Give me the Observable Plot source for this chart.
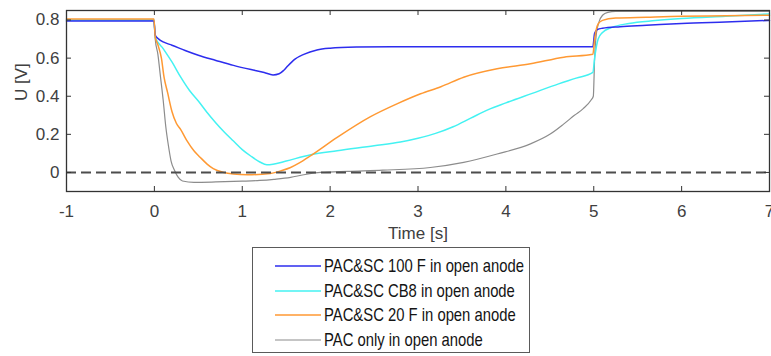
<!DOCTYPE html>
<html><head><meta charset="utf-8">
<script src="https://cdn.jsdelivr.net/npm/d3@7"></script>
<script src="https://cdn.jsdelivr.net/npm/@observablehq/plot@0.6"></script>
<style>
body{margin:0;background:#fff;}
#wrap{position:relative;width:771px;height:356px;overflow:hidden;background:#fff;}
#chart{position:absolute;left:0;top:0;}
#legend{position:absolute;left:252px;top:247px;width:278px;height:106px;border:1px solid #5a5a5a;background:#fff;box-sizing:border-box;}
.row{position:absolute;left:0;height:24px;display:flex;align-items:center;white-space:nowrap;}
.row svg{margin-left:22px;margin-right:3px;}
.lbl{color:#141414;font-size:19px;display:inline-block;transform-origin:left center;}
</style></head><body>
<div id="wrap"><div id="chart"></div><div id="legend"></div></div>
<script>
// ---------- data ----------
const seriesNames = ["PAC&SC 100 F in open anode","PAC&SC CB8 in open anode","PAC&SC 20 F in open anode","PAC only in open anode"];
const seriesColors = ["#2d2dee","#44f2f2","#ff9933","#8c8c8c"];
const seriesWidths = [1.5,1.5,1.5,1.2];

const t100 = [-1,-0.005,0.01,0.05,0.1,0.2,0.35,0.5,0.7,0.9,1.1,1.25,1.35,1.42,1.47,1.52,1.6,1.7,1.85,2.0,2.3,2.7,3.5,4.5,4.99,5.01,5.04,5.1,5.3,5.6,6.0,6.5,7.0];
const u100 = [0.795,0.795,0.72,0.70,0.685,0.668,0.64,0.615,0.588,0.562,0.54,0.525,0.512,0.518,0.535,0.56,0.595,0.62,0.643,0.652,0.658,0.66,0.66,0.66,0.66,0.73,0.75,0.757,0.765,0.772,0.782,0.79,0.798];

const tCB8 = [-1,-0.005,0.01,0.1,0.2,0.3,0.4,0.5,0.6,0.7,0.8,0.9,1.0,1.1,1.2,1.28,1.35,1.5,1.78,2.08,2.5,2.8,3.0,3.2,3.4,3.6,3.8,4.0,4.3,4.6,4.8,4.99,5.01,5.05,5.1,5.2,5.4,5.7,6.0,6.5,7.0];
const uCB8 = [0.80,0.80,0.71,0.65,0.58,0.50,0.43,0.375,0.315,0.26,0.21,0.165,0.12,0.085,0.055,0.04,0.043,0.06,0.093,0.114,0.14,0.16,0.18,0.205,0.24,0.285,0.33,0.365,0.415,0.465,0.495,0.525,0.60,0.70,0.735,0.76,0.782,0.797,0.808,0.82,0.832];

const t20 = [-1,-0.005,0.01,0.04,0.08,0.11,0.15,0.2,0.25,0.3,0.37,0.45,0.52,0.6,0.67,0.79,0.9,1.06,1.32,1.45,1.55,1.65,1.78,2.08,2.46,2.76,3.03,3.26,3.52,3.9,4.28,4.66,4.99,5.01,5.05,5.1,5.25,5.6,6.0,6.5,7.0];
const u20 = [0.805,0.805,0.71,0.67,0.60,0.50,0.42,0.32,0.258,0.225,0.167,0.114,0.08,0.044,0.02,0.0,-0.008,-0.012,-0.005,0.01,0.026,0.05,0.088,0.184,0.293,0.36,0.413,0.45,0.50,0.544,0.57,0.605,0.62,0.70,0.78,0.798,0.81,0.815,0.82,0.822,0.825];

const tPAC = [-1,-0.005,0.01,0.04,0.07,0.1,0.13,0.16,0.19,0.23,0.27,0.32,0.45,0.7,1.0,1.2,1.36,1.55,1.7,1.89,2.2,2.6,3.14,3.52,3.9,4.28,4.5,4.66,4.78,4.88,4.97,4.995,5.01,5.03,5.06,5.1,5.16,5.25,6.0,7.0];
const uPAC = [0.80,0.80,0.70,0.62,0.50,0.38,0.24,0.14,0.06,0.01,-0.025,-0.045,-0.052,-0.05,-0.046,-0.042,-0.036,-0.026,-0.012,0.0,0.006,0.012,0.026,0.053,0.097,0.15,0.20,0.255,0.30,0.335,0.38,0.40,0.60,0.73,0.79,0.825,0.84,0.845,0.845,0.845];

const xTicks = [-1,0,1,2,3,4,5,6,7];
const yTicks = [0,0.2,0.4,0.6,0.8];
const xLabel = "Time [s]";
const yLabel = "U [V]";

// ---------- build ----------
const seriesT = [t100,tCB8,t20,tPAC];
const seriesU = [u100,uCB8,u20,uPAC];
const rows = seriesT.map((ts,i)=>ts.map((t,j)=>({t, u: seriesU[i][j], s: seriesNames[i]})));
const drawOrder = [3,1,0,2];

const W = 771, H = 245, mL = 66, mR = 2, mT = 10, mB = 54;
const innerW = W - mL - mR, innerH = H - mT - mB;
const ink = "#404040";

const chart = Plot.plot({
  width: W, height: H,
  marginLeft: mL, marginRight: mR, marginTop: mT, marginBottom: mB,
  style: {fontFamily: "'Liberation Sans', Arial, sans-serif", background: "#fff"},
  x: {domain: [-1, 7]},
  y: {domain: [-0.1, 0.85]},
  marks: [
    ...drawOrder.map(i => Plot.line(rows[i], {x: "t", y: "u", stroke: seriesColors[i], strokeWidth: seriesWidths[i], curve: "monotone-x"})),
    Plot.ruleY([0], {stroke: "#4d4d4d", strokeWidth: 2, strokeDasharray: "10,5"}),
    Plot.frame({stroke: "#333", strokeWidth: 1.3}),
    Plot.ruleX(xTicks, {x: d => d, insetTop: innerH - 5, stroke: "#333"}),
    Plot.ruleX(xTicks, {x: d => d, insetBottom: innerH - 5, stroke: "#333"}),
    Plot.ruleY(yTicks, {y: d => d, insetRight: innerW - 5, stroke: "#333"}),
    Plot.ruleY(yTicks, {y: d => d, insetLeft: innerW - 5, stroke: "#333"}),
    Plot.axisX(xTicks, {tickSize: 0, tickPadding: 13, fontSize: 17, color: ink, tickFormat: d => String(d), label: null}),
    Plot.axisY(yTicks, {tickSize: 0, tickPadding: 7, fontSize: 17, color: ink, tickFormat: d => String(d), label: null}),
    Plot.text([xLabel], {text: d => d, frameAnchor: "bottom", dy: 47, fontSize: 17, fill: ink}),
    Plot.text([yLabel], {text: d => d, frameAnchor: "left", dx: -45, rotate: -90, fontSize: 17, fill: ink})
  ]
});
document.getElementById("chart").appendChild(chart);

// ---------- legend ----------
function hasFont(name){
  const c = document.createElement("canvas").getContext("2d");
  const s = "PAC&SC 100 F in open anode";
  c.font = "18px monospace"; const a = c.measureText(s).width;
  c.font = `18px '${name}', monospace`; const b = c.measureText(s).width;
  return Math.abs(a-b) > 0.5;
}
const narrow = hasFont("Liberation Sans Narrow");
const leg = document.getElementById("legend");
seriesNames.forEach((name,i)=>{
  const r = document.createElement("div");
  r.className = "row";
  r.style.top = (6 + i*24.6) + "px";
  r.innerHTML = `<svg width="46" height="6"><line x1="0" x2="46" y1="3" y2="3" stroke="${seriesColors[i]}" stroke-width="${seriesWidths[i]}"/></svg>`;
  const sp = document.createElement("span");
  sp.className = "lbl";
  sp.textContent = name;
  if (narrow) sp.style.fontFamily = "'Liberation Sans Narrow'";
  else { sp.style.fontFamily = "'Liberation Sans', Arial, sans-serif"; sp.style.transform = "scaleX(0.78)"; }
  r.appendChild(sp);
  leg.appendChild(r);
});
</script>
</body></html>
